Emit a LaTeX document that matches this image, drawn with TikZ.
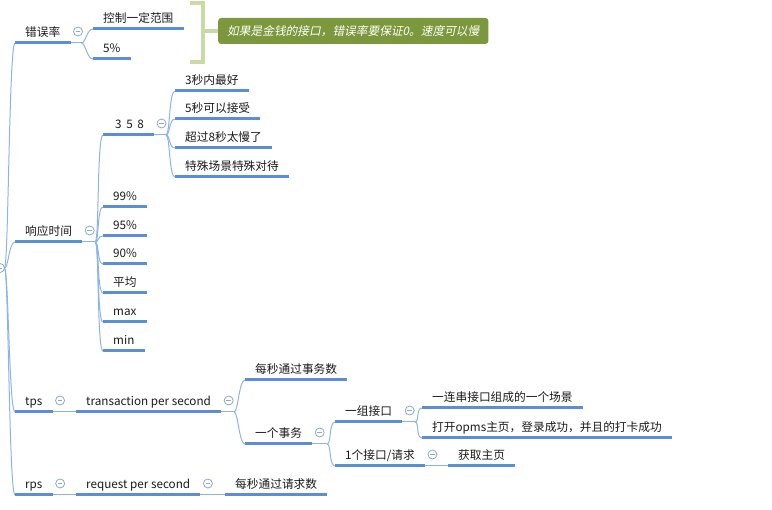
\documentclass[tikz,border=0pt]{standalone}
\usepackage{fontspec}
\newfontfamily\cjk{Noto Sans CJK SC}
\newfontfamily\cjkit[FakeSlant=0.2]{Noto Sans CJK SC}
\usetikzlibrary{calc}
\definecolor{ulc}{HTML}{5A8ED8}
\definecolor{lnc}{HTML}{8DB4E6}
\definecolor{circc}{HTML}{8AA8D0}
\definecolor{olive}{HTML}{7B983C}
\definecolor{brk}{HTML}{C8DBA5}
\definecolor{txt}{HTML}{1A1A1A}
\begin{document}
\begin{tikzpicture}[x=1pt,y=-1pt,
  topic/.style={anchor=south west, inner xsep=10pt, inner ysep=4pt, text height=9pt, text depth=2.5pt, text=txt, font=\cjk\fontsize{11.7}{14}\selectfont},
  uline/.style={draw=ulc, line width=3pt},
  conn/.style={draw=lnc, line width=1pt},
  bz/.style={to path={.. controls +(4,0) and +(-6,0) .. (\tikztotarget)}},
  coll/.style={circle, draw=circc, line width=0.8pt, minimum size=9pt, inner sep=0pt, fill=white,
    path picture={\draw[circc, line width=0.8pt] ([xshift=-2.3pt]path picture bounding box.center) -- ([xshift=2.3pt]path picture bounding box.center);}},
  callout/.style={fill=olive, rounded corners=3pt, text=white, font=\cjkit\fontsize{11.7}{14}\selectfont, inner xsep=9pt, inner ysep=0pt, minimum height=26pt, anchor=west}
]
\useasboundingbox (0,0) rectangle (772,510);

% ---- nodes
\node[topic] (err)  at (15,43)  {错误率};
\node[topic] (resp) at (15,242) {响应时间};
\node[topic] (tps)  at (15,412) {tps};
\node[topic] (rps)  at (15,495) {rps};

\node[topic] (e1) at (93,29) {控制一定范围};
\node[topic] (e2) at (93,59) {5\%};

\node[topic] (r358) at (103,135) {\hspace{2pt}3 \,5 \,8};
\node[topic] (r99)  at (103,207) {99\%};
\node[topic] (r95)  at (103,236) {95\%};
\node[topic] (r90)  at (103,264) {90\%};
\node[topic] (ravg) at (103,293) {平均};
\node[topic] (rmax) at (103,322) {max};
\node[topic] (rmin) at (103,351) {min};

\node[topic] (s3) at (175,91)  {3秒内最好};
\node[topic] (s5) at (175,119) {5秒可以接受};
\node[topic] (s8) at (175,148) {超过8秒太慢了};
\node[topic] (ss) at (175,177) {特殊场景特殊对待};

\node[topic] (tpsd) at (76,412) {transaction per second};
\node[topic] (t1) at (245,380) {每秒通过事务数};
\node[topic] (t2) at (245,444) {一个事务};
\node[topic] (g1) at (335,422) {一组接口};
\node[topic] (g2) at (335,466) {1个接口/请求};
\node[topic] (h1) at (422,408) {一连串接口组成的一个场景};
\node[topic] (h2) at (422,438) {打开opms主页，登录成功，并且的打卡成功};
\node[topic] (g2a) at (448,466) {获取主页};

\node[topic] (rpsd) at (76,495) {request per second};
\node[topic] (rpsa) at (225,495) {每秒通过请求数};

% ---- root
\coordinate (rootc) at (4.5,268);
\foreach \n in {err,resp,tps,rps}
  \draw[conn] (rootc) to[bz] (\n.south west);
\node[coll] (rootcirc) at (0,268) {};

% ---- branch points and connectors
\coordinate (eb) at ($(err.south east)+(11,0)$);
\draw[conn] (err.south east) -- (eb);
\foreach \n in {e1,e2} \draw[conn] (eb) to[bz] (\n.south west);

\coordinate (rb) at ($(resp.south east)+(13,0)$);
\draw[conn] (resp.south east) -- (rb);
\foreach \n in {r358,r99,r95,r90,ravg,rmax,rmin} \draw[conn] (rb) to[bz] (\n.south west);

\coordinate (sb) at ($(r358.south east)+(12,0)$);
\draw[conn] (r358.south east) -- (sb);
\foreach \n in {s3,s5,s8,ss} \draw[conn] (sb) to[bz] (\n.south west);

\draw[conn] (tps.south east) -- (tpsd.south west);
\coordinate (tb) at ($(tpsd.south east)+(13,0)$);
\draw[conn] (tpsd.south east) -- (tb);
\foreach \n in {t1,t2} \draw[conn] (tb) to[bz] (\n.south west);

\coordinate (t2b) at ($(t2.south east)+(15,0)$);
\draw[conn] (t2.south east) -- (t2b);
\foreach \n in {g1,g2} \draw[conn] (t2b) to[bz] (\n.south west);

\coordinate (g1b) at ($(g1.south east)+(13,0)$);
\draw[conn] (g1.south east) -- (g1b);
\foreach \n in {h1,h2} \draw[conn] (g1b) to[bz] (\n.south west);

\draw[conn] (g2.south east) -- (g2a.south west);

\draw[conn] (rps.south east) -- (rpsd.south west);
\draw[conn] (rpsd.south east) -- (rpsa.south west);

% ---- underlines
\foreach \n in {err,resp,tps,rps,e1,e2,r358,r99,r95,r90,ravg,rmax,rmin,s3,s5,s8,ss,tpsd,t1,t2,g1,g2,h1,h2,g2a,rpsd,rpsa}
  \draw[uline] (\n.south west) -- (\n.south east);

% ---- collapse markers
\foreach \n/\m in {err/cerr,resp/cresp,r358/cr358,tps/ctps,tpsd/ctpsd,t2/ct2,g1/cg1,g2/cg2,rps/crps,rpsd/crpsd}
  \node[coll] (\m) at ($(\n.south east)+(7.5,-11.5)$) {};

% ---- summary bracket and callout
\coordinate (bt) at (190,3);
\coordinate (bb) at (190,62);
\coordinate (bm) at (203,31);
\draw[brk, line width=3.8pt] (bt) -- (203,3) -- (203,62) -- (bb);
\node[callout] (note) at (218,31) {如果是金钱的接口，错误率要保证0。速度可以慢};
\draw[brk, line width=3.8pt] (bm) -- (note.west);
\end{tikzpicture}
\end{document}
